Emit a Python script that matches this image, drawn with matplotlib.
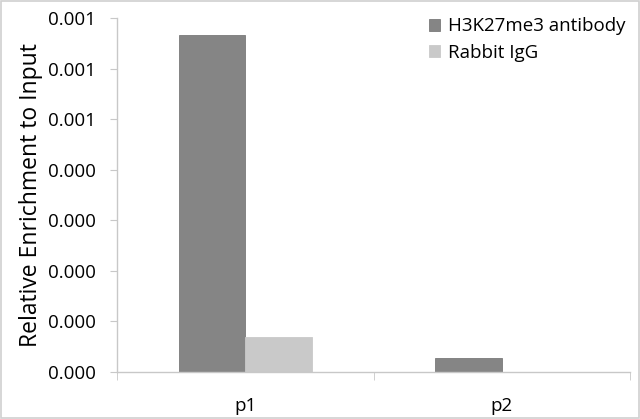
import matplotlib
matplotlib.use("Agg")
import matplotlib.pyplot as plt
from matplotlib.patches import Rectangle
from matplotlib.ticker import FormatStrFormatter, MultipleLocator
import numpy as np

# Donnees
categories = ["p1", "p2"]
h3k27me3 = [0.000667, 0.0000271]
rabbit_igg = [0.0000698, 0.0000005]
series_labels = ["H3K27me3 antibody", "Rabbit IgG"]

plt.rcParams['font.family'] = ['Open Sans', 'DejaVu Sans']

fig = plt.figure(figsize=(6.4, 4.19), dpi=100)
ax = fig.add_axes([117 / 640, 47 / 419, 513 / 640, 354 / 419])

x = np.arange(len(categories))
largeur = 0.26
ax.bar(x - largeur / 2, h3k27me3, largeur, color='#858585', edgecolor='#7a7a7a',
       linewidth=0.6, label=series_labels[0])
ax.bar(x + largeur / 2, rabbit_igg, largeur, color='#c9c9c9', edgecolor='#c9c9c9',
       linewidth=0.6, label=series_labels[1])

ax.set_xlim(-0.5, 1.5)
ax.set_ylim(0, 0.0007)
ax.yaxis.set_major_locator(MultipleLocator(0.0001))
ax.yaxis.set_major_formatter(FormatStrFormatter('%.3f'))

# Axes a la maniere d'Excel
for cote in ['top', 'right']:
    ax.spines[cote].set_visible(False)
for cote in ['left', 'bottom']:
    ax.spines[cote].set_color('#c8c8c8')
    ax.spines[cote].set_linewidth(1)

ax.set_xticks(x)
ax.set_xticklabels(categories, fontsize=13.5)
ax.set_xticks([-0.5, 0.5, 1.5], minor=True)
ax.tick_params(axis='x', which='major', length=0, pad=18)
ax.tick_params(axis='x', which='minor', length=6, color='#c8c8c8')
ax.tick_params(axis='y', length=5, color='#c8c8c8', labelsize=13.5, pad=10)

ax.set_ylabel("Relative Enrichment to Input", fontsize=16.5, labelpad=4)

ax.legend(loc='upper right', bbox_to_anchor=(1.025, 1.05), frameon=False, fontsize=13.5,
          handlelength=0.6, handleheight=0.6, handletextpad=0.45, labelspacing=0.45)

# Cadre gris autour de l'image
fig.patches.append(Rectangle((0.002, 0.003), 0.996, 0.994, transform=fig.transFigure,
                             fill=False, edgecolor='#d0d0d0', linewidth=1.2))

fig.savefig("out.png", dpi=100)
